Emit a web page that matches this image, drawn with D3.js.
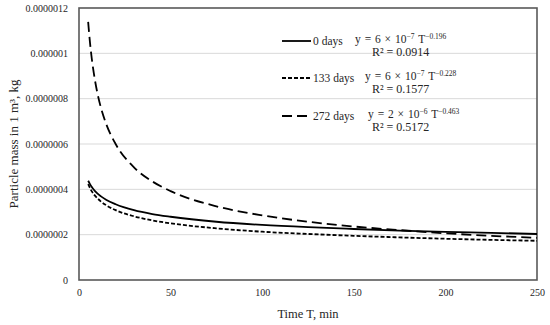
<!DOCTYPE html>
<html>
<head>
<meta charset="utf-8">
<script src="https://cdn.jsdelivr.net/npm/d3@7"></script>
<style>
  body { margin: 0; background: #fff; }
  text { font-family: "Liberation Serif", "DejaVu Serif", serif; fill: #262626; }
</style>
</head>
<body>
<script>
// values (T in min, mass in kg)
var times   = [5, 6, 7, 8, 10, 12, 15, 20, 30, 40, 50, 75, 100, 125, 150, 175, 200, 225, 250];
var days0   = [4.38e-7, 4.23e-7, 4.10e-7, 3.99e-7, 3.82e-7, 3.69e-7, 3.53e-7, 3.34e-7, 3.08e-7, 2.91e-7, 2.79e-7, 2.57e-7, 2.43e-7, 2.33e-7, 2.25e-7, 2.18e-7, 2.12e-7, 2.08e-7, 2.03e-7];
var days133 = [4.23e-7, 4.06e-7, 3.91e-7, 3.79e-7, 3.61e-7, 3.46e-7, 3.29e-7, 3.08e-7, 2.81e-7, 2.63e-7, 2.50e-7, 2.28e-7, 2.13e-7, 2.03e-7, 1.95e-7, 1.88e-7, 1.82e-7, 1.77e-7, 1.73e-7];
var days272 = [1.139e-6, 1.047e-6, 9.75e-7, 9.17e-7, 8.26e-7, 7.59e-7, 6.85e-7, 6.00e-7, 4.97e-7, 4.35e-7, 3.92e-7, 3.25e-7, 2.85e-7, 2.57e-7, 2.36e-7, 2.20e-7, 2.06e-7, 1.95e-7, 1.86e-7];

var seriesNames = ['0 days', '133 days', '272 days'];
var eqCoef  = ['6 × 10', '6 × 10', '2 × 10'];
var eqCoefExp = ['−7', '−7', '−6'];
var eqPow   = ['−0.196', '−0.228', '−0.463'];
var rSquared = ['0.0914', '0.1577', '0.5172'];

var xTicks = [0, 50, 100, 150, 200, 250];
var yTicks = [0, 2e-7, 4e-7, 6e-7, 8e-7, 1e-6, 1.2e-6];
var yTickLabels = ['0', '0.0000002', '0.0000004', '0.0000006', '0.0000008', '0.000001', '0.0000012'];

var width = 550,
	height = 325,
	margin = {top: 8, right: 13, bottom: 45, left: 79};

var svg = d3.select('body').append('svg')
	.attr('width', width)
	.attr('height', height);

var w = width - margin.left - margin.right,
	h = height - margin.top - margin.bottom;

var xScale = d3.scaleLinear().domain([0, 250]).range([0, w]),
	yScale = d3.scaleLinear().domain([0, 1.2e-6]).range([h, 0]);

var g = svg.append('g')
	.attr('transform', 'translate(' + margin.left + ',' + margin.top + ')');

// gridlines
g.selectAll('.grid')
	.data(yTicks.slice(1, -1))
	.enter().append('line')
	.attr('x1', 0).attr('x2', w)
	.attr('y1', function(d) { return yScale(d); })
	.attr('y2', function(d) { return yScale(d); })
	.attr('stroke', '#d9d9d9')
	.attr('stroke-width', 1);

// y axis labels
var yAxis = g.append('g')
	.call(d3.axisLeft(yScale).tickValues(yTicks)
		.tickFormat(function(d, i) { return yTickLabels[i]; })
		.tickSize(0).tickPadding(11));
yAxis.select('.domain').remove();
yAxis.selectAll('text').style('font-size', '10px').attr('fill', '#262626');

// x axis labels
var xAxis = g.append('g')
	.attr('transform', 'translate(0,' + h + ')')
	.call(d3.axisBottom(xScale).tickValues(xTicks).tickSize(0).tickPadding(9));
xAxis.select('.domain').remove();
xAxis.selectAll('text').style('font-size', '10px').attr('fill', '#262626');

// frame
g.append('rect')
	.attr('width', w).attr('height', h)
	.attr('fill', 'none')
	.attr('stroke', '#595959')
	.attr('stroke-width', 1.6);

// curves
var series = [days0, days133, days272];
var dashes = [null, '4,2', '10,5'];

var line = d3.line()
	.x(function(d) { return xScale(d[0]); })
	.y(function(d) { return yScale(d[1]); })
	.curve(d3.curveMonotoneX);

series.forEach(function(vals, i) {
	g.append('path')
		.datum(times.map(function(t, j) { return [t, vals[j]]; }))
		.attr('d', line)
		.attr('fill', 'none')
		.attr('stroke', '#000')
		.attr('stroke-width', 1.8)
		.attr('stroke-dasharray', dashes[i]);
});

// legend with trend equations
var legendY = [41, 78, 116];
var eqX = [355, 365, 368];
seriesNames.forEach(function(name, i) {
	var ly = legendY[i];
	svg.append('line')
		.attr('x1', 282).attr('x2', 311)
		.attr('y1', ly).attr('y2', ly)
		.attr('stroke', '#000')
		.attr('stroke-width', 1.8)
		.attr('stroke-dasharray', dashes[i]);
	svg.append('text')
		.attr('x', 313).attr('y', ly + 4)
		.style('font-size', '11.5px')
		.text(name);
	var eq = svg.append('text')
		.attr('x', eqX[i]).attr('y', ly + 2)
		.style('font-size', '11.5px')
		.style('word-spacing', '1px');
	eq.append('tspan').text('y = ' + eqCoef[i]);
	eq.append('tspan').attr('dy', -4).style('font-size', '7.5px').text(eqCoefExp[i]);
	eq.append('tspan').attr('dy', 4).text(' T');
	eq.append('tspan').attr('dy', -4).style('font-size', '7.5px').text(eqPow[i]);
	svg.append('text')
		.attr('x', 372).attr('y', ly + 15)
		.style('font-size', '12px')
		.text('R² = ' + rSquared[i]);
});

// axis titles
svg.append('text')
	.attr('x', margin.left + w / 2).attr('y', 318)
	.attr('text-anchor', 'middle')
	.style('font-size', '12.5px')
	.text('Time T, min');

svg.append('text')
	.attr('transform', 'translate(18,' + (margin.top + h / 2) + ') rotate(-90)')
	.attr('text-anchor', 'middle')
	.style('font-size', '13px')
	.text('Particle mass in 1 m³, kg');
</script>
</body>
</html>
